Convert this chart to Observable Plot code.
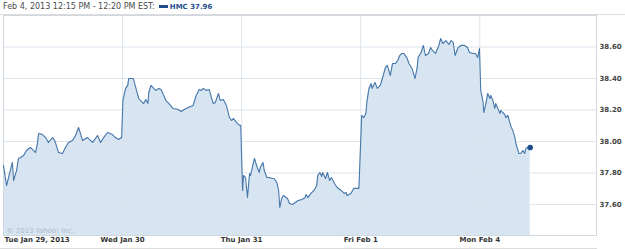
<!DOCTYPE html>
<html>
<head>
<meta charset="utf-8">
<script src="https://cdn.jsdelivr.net/npm/d3@7"></script>
<script src="https://cdn.jsdelivr.net/npm/@observablehq/plot@0.6"></script>
<style>
  html, body { margin: 0; padding: 0; background: #fff; }
  #wrap { width: 625px; height: 249px; position: relative; overflow: hidden; font-family: "DejaVu Sans", sans-serif; }
  #hdr { height: 14px; border-bottom: 1px solid #dcdcdc; font-size: 8px; line-height: 14px; color: #4a4a4a; padding-left: 3px; white-space: nowrap; }
  #hdr .sw { display: inline-block; width: 9px; height: 3px; background: #1f4e8c; vertical-align: middle; margin: 0 2px 0 4px; }
  #hdr .tk { color: #1f4e8c; font-weight: bold; font-size: 7px; }
  #foot { border-top: 1px solid #dcdcdc; width: 597px; }
  svg { display: block; }
</style>
</head>
<body>
<div id="wrap">
  <div id="hdr">Feb 4, 2013 12:15 PM - 12:20 PM EST:<span class="sw"></span><span class="tk">HMC 37.96</span></div>
  <div id="chart"></div>
  <div id="foot"></div>
</div>
<script>
// Each day: [minutes since 9:30 open, price]
const day1 = [[0,37.848],[10,37.72],[29,37.867],[33,37.752],[43,37.816],[49,37.892],[56,37.898],[66,37.911],[75,37.943],[88,37.962],[98,37.943],[105,37.930],[111,37.987],[115,38.051],[128,38.044],[138,38.025],[147,37.994],[161,38.025],[164,38.019],[170,37.994],[180,37.930],[193,37.924],[203,37.962],[213,37.994],[226,38.006],[236,38.038],[246,38.089],[259,38.006],[275,38.025],[292,37.994],[308,38.038],[318,37.994],[328,38.025],[341,38.057],[357,38.044],[367,38.025],[377,38.013],[387,38.025]];
const day2 = [[1,38.260],[10,38.337],[17,38.356],[20,38.400],[33,38.400],[36,38.394],[43,38.343],[53,38.273],[59,38.260],[69,38.241],[76,38.267],[83,38.241],[86,38.311],[93,38.356],[102,38.337],[109,38.324],[119,38.337],[126,38.330],[132,38.305],[142,38.260],[152,38.241],[165,38.210],[182,38.203],[192,38.190],[202,38.203],[215,38.216],[231,38.229],[241,38.292],[251,38.330],[258,38.324],[264,38.337],[274,38.324],[284,38.330],[291,38.279],[297,38.241],[304,38.248],[314,38.305],[320,38.260],[330,38.267],[340,38.229],[350,38.152],[357,38.133],[363,38.146],[373,38.121],[383,38.102],[387,38.102]];
const day3 = [[3,37.689],[6,37.784],[13,37.771],[19,37.644],[26,37.797],[29,37.784],[35,37.835],[42,37.892],[51,37.835],[58,37.803],[61,37.835],[70,37.867],[74,37.816],[83,37.771],[90,37.771],[99,37.765],[106,37.765],[115,37.740],[121,37.689],[125,37.581],[131,37.638],[137,37.657],[150,37.638],[157,37.606],[166,37.600],[176,37.613],[185,37.625],[198,37.632],[208,37.644],[211,37.663],[217,37.644],[227,37.670],[237,37.689],[246,37.721],[249,37.784],[256,37.803],[262,37.778],[265,37.803],[275,37.765],[281,37.803],[288,37.752],[294,37.771],[304,37.733],[313,37.708],[326,37.689],[336,37.670],[342,37.676],[345,37.657],[358,37.670],[367,37.702],[377,37.702],[384,37.702]];
const day4 = [[1,38.057],[3,38.165],[10,38.152],[17,38.178],[20,38.248],[27,38.337],[34,38.368],[37,38.337],[47,38.375],[54,38.337],[64,38.356],[71,38.400],[81,38.470],[87,38.483],[97,38.419],[104,38.495],[114,38.495],[121,38.514],[128,38.546],[134,38.559],[141,38.559],[151,38.533],[158,38.495],[168,38.463],[178,38.400],[185,38.470],[188,38.533],[198,38.565],[205,38.610],[212,38.546],[222,38.559],[229,38.597],[235,38.578],[245,38.559],[256,38.610],[262,38.654],[269,38.622],[279,38.641],[289,38.616],[296,38.641],[303,38.629],[309,38.546],[319,38.597],[329,38.610],[340,38.610],[350,38.597],[356,38.565],[370,38.559],[376,38.559],[383,38.533],[389,38.590]];
const day5 = [[3,38.324],[10,38.260],[13,38.184],[20,38.241],[26,38.305],[33,38.273],[36,38.292],[43,38.260],[49,38.210],[52,38.241],[59,38.210],[66,38.178],[69,38.197],[75,38.184],[82,38.171],[85,38.152],[92,38.165],[98,38.121],[102,38.095],[108,38.070],[115,38.025],[118,37.987],[128,37.924],[134,37.924],[141,37.943],[147,37.924],[151,37.956],[157,37.962],[165,37.962]];

const dayLabels = ["Tue Jan 29, 2013", "Wed Jan 30", "Thu Jan 31", "Fri Feb 1", "Mon Feb 4"];
const yTicks = [37.60, 37.80, 38.00, 38.20, 38.40, 38.60];
const sessionMinutes = 390;

const days = [day1, day2, day3, day4, day5];
const rows = days.flatMap((d, i) => d.map(([m, v]) => ({t: i + m / sessionMinutes, price: v})));
const last = rows[rows.length - 1];
const yMin = 37.403, yMax = 38.80;

const chart = Plot.plot({
  width: 625,
  height: 233,
  marginLeft: 3,
  marginRight: 29,
  marginTop: 0,
  marginBottom: 13,
  style: {fontFamily: "DejaVu Sans, sans-serif", background: "transparent"},
  x: {domain: [0, 4.98], axis: null},
  y: {domain: [yMin, yMax], axis: null},
  marks: [
    Plot.areaY(rows, {x: "t", y1: () => yMin, y2: "price", fill: "#d6e5f1", curve: "linear"}),
    Plot.ruleY(yTicks, {stroke: "#dce4ec", strokeWidth: 1}),
    Plot.ruleX([1, 2, 3, 4], {stroke: "#dce4ec", strokeWidth: 1}),
    Plot.frame({stroke: "#cfd8e1"}),
    Plot.text(["© 2013 Yahoo! Inc."], {frameAnchor: "bottom-left", dx: 3, dy: -3, fill: "#aebbc8", fontSize: 7, textAnchor: "start"}),
    Plot.line(rows, {x: "t", y: "price", stroke: "#4676aa", strokeWidth: 1.1}),
    Plot.dot([last], {x: "t", y: "price", r: 2.8, fill: "#1f4e8c", stroke: "none"}),
    Plot.axisY(yTicks, {anchor: "right", tickSize: 0, tickPadding: 3, tickFormat: d3.format(".2f"), fontSize: 7, fontWeight: "bold", fill: "#444", label: null}),
    Plot.axisX([1, 2, 3, 4], {anchor: "bottom", tickSize: 0, tickPadding: 2, tickFormat: (d) => dayLabels[d], fontSize: 7, fontWeight: "bold", fill: "#333", label: null}),
    Plot.axisX([0], {anchor: "bottom", tickSize: 0, tickPadding: 2, tickFormat: (d) => dayLabels[d], textAnchor: "start", dx: 1, fontSize: 7, fontWeight: "bold", fill: "#333", label: null})
  ]
});
document.getElementById("chart").appendChild(chart);
</script>
</body>
</html>
